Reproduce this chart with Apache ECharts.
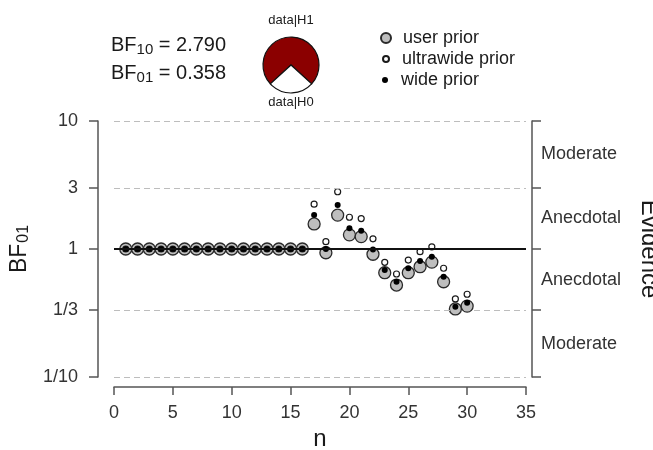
<!DOCTYPE html>
<html>
<head>
<meta charset="utf-8">
<script src="https://cdn.jsdelivr.net/npm/echarts@6/dist/echarts.min.js"></script>
<style>
html, body { margin: 0; padding: 0; background: #fff; }
#main { width: 653px; height: 450px; }
</style>
</head>
<body>
<div id="main"></div>
<script>
// sequential BF01 values
var n = [1, 2, 3, 4, 5, 6, 7, 8, 9, 10, 11, 12, 13, 14, 15, 16, 17, 18, 19, 20, 21, 22, 23, 24, 25, 26, 27, 28, 29, 30];
var userPrior = [1, 1, 1, 1, 1, 1, 1, 1, 1, 1, 1, 1, 1, 1, 1, 1,
  1.57, 0.935, 1.84, 1.29, 1.25, 0.91, 0.653, 0.523, 0.653, 0.727, 0.79, 0.555, 0.340, 0.358];
var ultrawidePrior = [1, 1, 1, 1, 1, 1, 1, 1, 1, 1, 1, 1, 1, 1, 1, 1,
  2.24, 1.14, 2.80, 1.77, 1.73, 1.20, 0.787, 0.638, 0.82, 0.953, 1.04, 0.707, 0.407, 0.443];
var widePrior = [1, 1, 1, 1, 1, 1, 1, 1, 1, 1, 1, 1, 1, 1, 1, 1,
  1.84, 1.0, 2.21, 1.45, 1.39, 0.99, 0.685, 0.555, 0.707, 0.806, 0.87, 0.608, 0.354, 0.380];

var yTicks = [0.1, 1 / 3, 1, 3, 10];
var yTickLabels = ['1/10', '1/3', '1', '3', '10'];
var evidenceLabels = ['Moderate', 'Anecdotal', 'Anecdotal', 'Moderate'];

var bf10 = 2.790;
var bf01 = 0.358;

var font = "'Liberation Sans', Arial, Helvetica, sans-serif";

function pairs(ys) {
  return n.map(function (x, i) { return [x, ys[i]]; });
}

// label positions for the evidence bands: halfway (in log) between ticks
var mids = [];
for (var i = 0; i < yTicks.length - 1; i++) {
  mids.push(Math.sqrt(yTicks[i] * yTicks[i + 1]));
}

function nearest(v, arr) {
  var best = 0, d = Infinity;
  for (var k = 0; k < arr.length; k++) {
    var dd = Math.abs(Math.log(v) - Math.log(arr[k]));
    if (dd < d) { d = dd; best = k; }
  }
  return best;
}

var axisColor = '#555';
var textColor = '#333';

var dom = document.getElementById('main');
var myChart = echarts.init(dom, null, { renderer: 'canvas' });

var h0Share = 1 / (1 + bf10);
var startAngle = (270 + 360 * (1 - h0Share) + 180 * h0Share) % 360;

var legendText = { fontSize: 18, color: '#1a1a1a', fontFamily: font, lineHeight: 20 };

var option = {
  animation: false,
  textStyle: { fontFamily: font },
  grid: { left: 114, right: 127, top: 121, bottom: 73, containLabel: false, outerBoundsMode: 'none' },
  xAxis: {
    type: 'value',
    min: 0,
    max: 35,
    interval: 5,
    offset: 10,
    axisLine: { onZero: false, lineStyle: { color: axisColor, width: 1.5 } },
    axisTick: { length: 8, lineStyle: { color: axisColor, width: 1.5 } },
    axisLabel: { fontSize: 18, color: textColor, margin: 17, fontFamily: font },
    splitLine: { show: false },
    name: 'n',
    nameLocation: 'middle',
    nameGap: 37,
    nameTextStyle: { fontSize: 24, color: '#1a1a1a', fontFamily: font }
  },
  yAxis: [{
    type: 'log',
    min: 0.1,
    max: 10,
    offset: 16,
    axisLine: { show: true, onZero: false, lineStyle: { color: axisColor, width: 1.5 } },
    axisTick: { show: true, length: 9, customValues: yTicks, lineStyle: { color: axisColor, width: 1.5 } },
    axisLabel: {
      customValues: yTicks,
      fontSize: 18,
      color: textColor,
      margin: 20,
      fontFamily: font,
      formatter: function (v) { return yTickLabels[nearest(v, yTicks)]; }
    },
    splitLine: { show: false },
    name: 'BF{s|01}',
    nameLocation: 'middle',
    nameRotate: 90,
    nameGap: 48,
    nameTextStyle: {
      fontSize: 23, color: '#1a1a1a', fontFamily: font,
      rich: { s: { fontSize: 16, color: '#1a1a1a', fontFamily: font, padding: [8, 0, 0, 1] } }
    }
  }, {
    type: 'log',
    position: 'right',
    min: 0.1,
    max: 10,
    offset: 6,
    axisLine: { show: true, onZero: false, lineStyle: { color: axisColor, width: 1.5 } },
    axisTick: { show: true, length: 9, customValues: yTicks, lineStyle: { color: axisColor, width: 1.5 } },
    axisLabel: {
      customValues: mids,
      fontSize: 18,
      color: textColor,
      margin: 9,
      fontFamily: font,
      formatter: function (v) { return evidenceLabels[nearest(v, mids)]; }
    },
    splitLine: { show: false },
    name: 'Evidence',
    nameLocation: 'middle',
    nameRotate: -90,
    nameGap: 105,
    nameTextStyle: { fontSize: 24, color: '#1a1a1a', fontFamily: font }
  }],
  legend: [{
    data: ['user prior'],
    left: 380, top: 28, padding: 0,
    itemWidth: 24, itemHeight: 10,
    textStyle: legendText
  }, {
    data: ['ultrawide prior'],
    left: 382, top: 49, padding: 0,
    itemWidth: 22, itemHeight: 6,
    textStyle: legendText
  }, {
    data: ['wide prior'],
    left: 382, top: 70, padding: 0,
    itemWidth: 22, itemHeight: 6,
    textStyle: legendText
  }],
  graphic: [{
    type: 'text', x: 111, y: 45,
    style: {
      text: '{b|BF}{s|10}{b| = ' + bf10.toFixed(3) + '}',
      verticalAlign: 'middle',
      rich: {
        b: { fontSize: 20, fontFamily: font, fill: '#1a1a1a', lineHeight: 24 },
        s: { fontSize: 15, fontFamily: font, fill: '#1a1a1a', verticalAlign: 'bottom' }
      }
    }
  }, {
    type: 'text', x: 111, y: 73,
    style: {
      text: '{b|BF}{s|01}{b| = ' + bf01.toFixed(3) + '}',
      verticalAlign: 'middle',
      rich: {
        b: { fontSize: 20, fontFamily: font, fill: '#1a1a1a', lineHeight: 24 },
        s: { fontSize: 15, fontFamily: font, fill: '#1a1a1a', verticalAlign: 'bottom' }
      }
    }
  }, {
    type: 'text', x: 291, y: 20,
    style: { text: 'data|H1', align: 'center', verticalAlign: 'middle', fontSize: 13, fontFamily: font, fill: '#1a1a1a' }
  }, {
    type: 'text', x: 291, y: 102,
    style: { text: 'data|H0', align: 'center', verticalAlign: 'middle', fontSize: 13, fontFamily: font, fill: '#1a1a1a' }
  }],
  series: [{
    // reference lines
    type: 'line',
    data: [],
    silent: true,
    z: 1,
    markLine: {
      silent: true,
      symbol: ['none', 'none'],
      label: { show: false },
      data: yTicks.map(function (v) {
        return {
          yAxis: v,
          lineStyle: v === 1
            ? { color: '#111', width: 2, type: 'solid' }
            : { color: '#bdbdbd', width: 1.2, type: [6, 4] }
        };
      })
    }
  }, {
    name: 'user prior',
    type: 'scatter',
    z: 2,
    symbol: 'circle',
    symbolSize: 12,
    itemStyle: { color: '#bebebe', borderColor: '#2a2a2a', borderWidth: 1.3, opacity: 1 },
    data: pairs(userPrior)
  }, {
    name: 'ultrawide prior',
    type: 'scatter',
    z: 3,
    symbol: 'circle',
    symbolSize: 6,
    itemStyle: { color: '#fff', borderColor: '#1a1a1a', borderWidth: 1.2, opacity: 1 },
    data: pairs(ultrawidePrior)
  }, {
    name: 'wide prior',
    type: 'scatter',
    z: 4,
    symbol: 'circle',
    symbolSize: 6,
    itemStyle: { color: '#000', opacity: 1 },
    data: pairs(widePrior)
  }, {
    type: 'pie',
    silent: true,
    center: [291, 65],
    radius: 28,
    startAngle: startAngle,
    clockwise: true,
    label: { show: false },
    labelLine: { show: false },
    itemStyle: { borderColor: '#111', borderWidth: 1.2 },
    data: [
      { name: 'data|H1', value: bf10, itemStyle: { color: '#8b0000' } },
      { name: 'data|H0', value: 1, itemStyle: { color: '#fff' } }
    ]
  }]
};

myChart.setOption(option);
window.addEventListener('resize', myChart.resize);
</script>
</body>
</html>
